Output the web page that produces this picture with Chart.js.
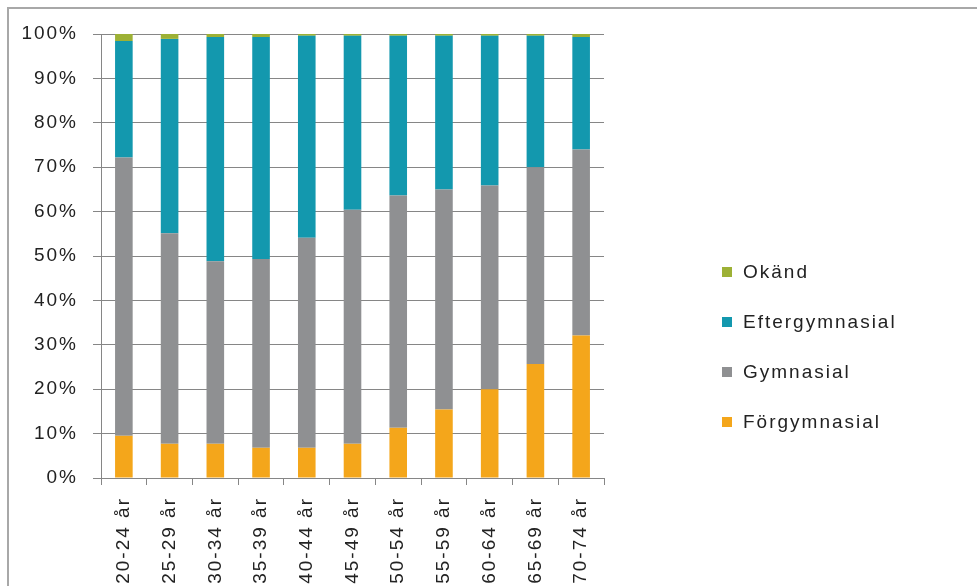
<!DOCTYPE html>
<html>
<head>
<meta charset="utf-8">
<script src="https://cdn.jsdelivr.net/npm/chart.js@4/dist/chart.umd.min.js"></script>
<style>
  html, body { margin: 0; padding: 0; background: #fff; }
  #wrap { position: relative; width: 977px; height: 586px; overflow: hidden; }
  #frame { position: absolute; left: 7px; top: 7px; width: 1000px; height: 620px; border: 2px solid #a8a8a8; box-sizing: border-box; pointer-events: none; }
  canvas { position: absolute; left: 0; top: 0; }
</style>
</head>
<body>
<div id="wrap">
  <canvas id="c" width="977" height="586"></canvas>
  <div id="frame"></div>
</div>
<script>
const categories = ['20-24 år', '25-29 år', '30-34 år', '35-39 år', '40-44 år', '45-49 år', '50-54 år', '55-59 år', '60-64 år', '65-69 år', '70-74 år'];
const forgymnasial   = [9.5, 7.7, 7.7, 6.8, 6.8, 7.7, 11.3, 15.4, 20.0, 25.7, 32.1];
const gymnasial      = [62.7, 47.4, 41.1, 42.5, 47.3, 52.7, 52.3, 49.6, 45.9, 44.3, 41.9];
const eftergymnasial = [26.2, 43.8, 50.5, 50.0, 45.5, 39.2, 36.0, 34.6, 33.7, 29.6, 25.3];
const okand          = [1.6, 1.1, 0.7, 0.7, 0.4, 0.4, 0.4, 0.4, 0.4, 0.4, 0.7];
const yTickValues    = [0, 10, 20, 30, 40, 50, 60, 70, 80, 90, 100];

const FONT_FAMILY = '"Liberation Sans", Arial, sans-serif';
const FONT_SIZE = 19;
const SPACING = '2px';
const TEXT_COLOR = '#222222';
const GRID_COLOR = '#868686';

const spacingPlugin = {
  id: 'spacing',
  beforeLayout(chart) { chart.ctx.letterSpacing = SPACING; },
  beforeDraw(chart) { chart.ctx.letterSpacing = SPACING; }
};

const sideLegend = {
  id: 'sideLegend',
  afterDraw(chart, args, opts) {
    const ctx = chart.ctx;
    ctx.save();
    ctx.letterSpacing = SPACING;
    ctx.font = FONT_SIZE + 'px ' + FONT_FAMILY;
    ctx.textBaseline = 'middle';
    ctx.textAlign = 'left';
    const ds = chart.data.datasets.slice().reverse();
    ds.forEach((d, i) => {
      const yc = opts.top + i * opts.step;
      ctx.fillStyle = d.backgroundColor;
      ctx.fillRect(opts.left, yc - opts.box / 2, opts.box, opts.box);
      ctx.fillStyle = TEXT_COLOR;
      ctx.fillText(d.label, opts.left + opts.box + 11, yc + 1);
    });
    ctx.restore();
  }
};

new Chart(document.getElementById('c'), {
  type: 'bar',
  data: {
    labels: categories,
    datasets: [
      { label: 'Förgymnasial', data: forgymnasial, backgroundColor: '#f4a61b' },
      { label: 'Gymnasial', data: gymnasial, backgroundColor: '#8f9092' },
      { label: 'Eftergymnasial', data: eftergymnasial, backgroundColor: '#1398ae' },
      { label: 'Okänd', data: okand, backgroundColor: '#9db135' }
    ]
  },
  options: {
    responsive: false,
    animation: false,
    devicePixelRatio: 1,
    layout: { padding: { top: 34, right: 373, left: 0, bottom: 0 } },
    datasets: { bar: { barPercentage: 0.385, categoryPercentage: 1.0 } },
    plugins: {
      legend: { display: false },
      tooltip: { enabled: false },
      sideLegend: { left: 722, top: 272, step: 50, box: 10 }
    },
    scales: {
      x: {
        stacked: true,
        grid: { drawOnChartArea: false, drawTicks: true, tickLength: 7, color: GRID_COLOR, offset: true },
        border: { color: GRID_COLOR, width: 1 },
        ticks: {
          minRotation: 90, maxRotation: 90, autoSkip: false, padding: 12,
          color: TEXT_COLOR, font: { family: FONT_FAMILY, size: FONT_SIZE }
        },
        afterFit(s) { s.height = 108; }
      },
      y: {
        stacked: true,
        min: 0, max: 100,
        afterBuildTicks(s) { s.ticks = yTickValues.map(v => ({ value: v })); },
        grid: { color: GRID_COLOR, tickLength: 8, lineWidth: 1 },
        border: { color: GRID_COLOR, width: 1 },
        ticks: {
          padding: 15,
          color: TEXT_COLOR,
          font: { family: FONT_FAMILY, size: FONT_SIZE },
          callback: v => v + '%'
        },
        afterFit(s) { s.width = 101; }
      }
    }
  },
  plugins: [spacingPlugin, sideLegend]
});
</script>
</body>
</html>
